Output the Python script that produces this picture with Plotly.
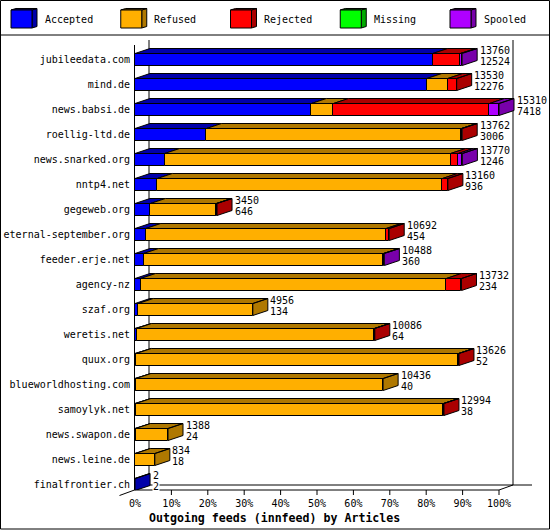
import plotly.graph_objects as go

# article counts per peer
peers = ['jubileedata.com', 'mind.de', 'news.babsi.de', 'roellig-ltd.de', 'news.snarked.org',
         'nntp4.net', 'gegeweb.org', 'eternal-september.org', 'feeder.erje.net', 'agency-nz',
         'szaf.org', 'weretis.net', 'quux.org', 'blueworldhosting.com', 'samoylyk.net',
         'news.swapon.de', 'news.leine.de', 'finalfrontier.ch']
totals = [13760, 13530, 15310, 13762, 13770, 13160, 3450, 10692, 10488, 13732,
          4956, 10086, 13626, 10436, 12994, 1388, 834, 2]
accepted = [12524, 12276, 7418, 3006, 1246, 936, 646, 454, 360, 234, 134, 64, 52, 40, 38, 24, 18, 2]
refused = [0, 880, 930, 10726, 12030, 11994, 2774, 10108, 10088, 12858, 4822, 10002, 13554, 10396, 12936, 1364, 816, 0]
rejected = [1160, 374, 6560, 30, 320, 230, 30, 130, 0, 640, 0, 20, 20, 0, 20, 0, 0, 0]
missing = [0] * 18
spooled = [76, 0, 402, 0, 174, 0, 0, 0, 40, 0, 0, 0, 0, 0, 0, 0, 0, 0]

series_names = ['Accepted', 'Refused', 'Rejected', 'Missing', 'Spooled']
series_values = [accepted, refused, rejected, missing, spooled]
face_colors = ['#0000ff', '#ffaf00', '#ff0000', '#00ff00', '#af00ff']
dark_colors = ['#0000aa', '#af7800', '#aa0000', '#00aa00', '#7800aa']
pct_ticks = [0, 10, 20, 30, 40, 50, 60, 70, 80, 90, 100]

W, H = 550, 530
L, R, T, B = 135, 531, 35, 490   # plot box in pixels
PX_PER_PCT = 3.64
PX_PER_ROW = 25
DX = 15 / PX_PER_PCT   # 3d depth in axis units
DY = 5 / PX_PER_ROW
HALF = 0.24
FONT = 'DejaVu Sans Mono'

scale = 100 / max(totals)


def px(x):
    return (x - L) / (R - L)


def py(y):
    return (B - y) / (B - T)


def line(x0, y0, x1, y1, width=1):
    return dict(type='line', xref='paper', yref='paper', layer='below',
                x0=px(x0), y0=py(y0), x1=px(x1), y1=py(y1),
                line=dict(color='black', width=width))


fig = go.Figure()

# front faces
for name, values, color in zip(series_names, series_values, face_colors):
    rows = [i for i, v in enumerate(values) if v > 0]
    if not rows:
        continue
    fig.add_trace(go.Bar(
        y=rows,
        x=[values[i] * scale for i in rows],
        base=[sum(s[i] for s in series_values[:series_values.index(values)]) * scale for i in rows],
        orientation='h',
        width=HALF * 2,
        name=name,
        marker=dict(color=color, line=dict(color='black', width=1)),
        showlegend=False,
    ))

# top and side faces, one trace per colour
for k, (values, dark) in enumerate(zip(series_values, dark_colors)):
    xs, ys = [], []
    for i, v in enumerate(values):
        if v <= 0:
            continue
        x0 = sum(s[i] for s in series_values[:k]) * scale
        x1 = x0 + v * scale
        xs += [x0, x0 + DX, x1 + DX, x1, x0, None]
        ys += [i - HALF, i - HALF - DY, i - HALF - DY, i - HALF, i - HALF, None]
        # the side belongs to the last segment of the stack
        if not any(s[i] > 0 for s in series_values[k + 1:]):
            xs += [x1, x1 + DX, x1 + DX, x1, x1, None]
            ys += [i - HALF, i - HALF - DY, i + HALF - DY, i + HALF, i - HALF, None]
    if xs:
        fig.add_trace(go.Scatter(x=xs, y=ys, mode='lines', fill='toself', fillcolor=dark,
                                 line=dict(color='black', width=1), hoverinfo='skip',
                                 showlegend=False))

# chart frame
shapes = [
    dict(type='rect', xref='paper', yref='paper', layer='below',
         x0=px(0.5), y0=py(0.5), x1=px(549.5), y1=py(529),
         line=dict(color='black', width=1), fillcolor='white'),
    line(0, 35, 550, 35),
    line(134.5, 45, 134.5, 490),
    line(149, 40, 149, 485),
    line(513, 40, 513, 485),
    line(134.5, 490, 499, 490),
    line(149, 485, 532, 485),
    line(119.5, 495.5, 134.5, 490),
    line(134.5, 490, 149, 485),
    line(499, 490, 513, 485),
]
for t in pct_ticks[1:]:
    shapes.append(dict(type='line', xref='x', yref='paper', layer='below',
                       x0=t, x1=t, y0=py(490), y1=py(495),
                       line=dict(color='black', width=1)))

# legend boxes
annotations = []
for n, name in enumerate(series_names):
    x = 11 + n * 109.75
    shapes.append(dict(type='path', xref='paper', yref='paper', layer='above',
                       path='M%f,%f L%f,%f L%f,%f L%f,%f Z' % (
                           px(x + 21), py(10), px(x + 26), py(8.5), px(x + 26), py(26.5), px(x + 21), py(28)),
                       fillcolor=dark_colors[n], line=dict(color='black', width=1)))
    shapes.append(dict(type='path', xref='paper', yref='paper', layer='above',
                       path='M%f,%f L%f,%f L%f,%f L%f,%f Z' % (
                           px(x), py(10), px(x + 5), py(8.5), px(x + 26), py(8.5), px(x + 21), py(10)),
                       fillcolor=dark_colors[n], line=dict(color='black', width=1)))
    shapes.append(dict(type='rect', xref='paper', yref='paper', layer='above',
                       x0=px(x), y0=py(10), x1=px(x + 21), y1=py(28),
                       fillcolor=face_colors[n], line=dict(color='black', width=1)))
    annotations.append(dict(xref='paper', yref='paper', x=px(x + 31.5), y=py(20),
                            xanchor='left', yanchor='middle', showarrow=False, text=name,
                            font=dict(family=FONT, size=10, color='black')))

# total and accepted labels at the end of each bar
for i in range(len(peers)):
    for text, shift in ((totals[i], 9.5), (accepted[i], -1.5)):
        annotations.append(dict(x=totals[i] * scale, y=i, xref='x', yref='y',
                                xanchor='left', yanchor='middle', xshift=16.5, yshift=shift,
                                showarrow=False, text=str(text), bgcolor='white', borderpad=0,
                                font=dict(family=FONT, size=10, color='black')))

annotations.append(dict(xref='paper', yref='paper', x=px(274), y=py(517.5),
                        xanchor='center', yanchor='middle', showarrow=False,
                        text='<b>Outgoing feeds (innfeed) by Articles</b>',
                        font=dict(family=FONT, size=11.6, color='black')))

fig.update_layout(
    width=W, height=H,
    margin=dict(l=L, r=W - R, t=T, b=H - B, pad=0, autoexpand=False),
    barmode='overlay',
    bargap=0,
    showlegend=False,
    paper_bgcolor='white',
    plot_bgcolor='rgba(0,0,0,0)',
    shapes=shapes,
    annotations=annotations,
    font=dict(family=FONT, size=10, color='black'),
    xaxis=dict(range=[0, (R - L) / PX_PER_PCT], tickvals=pct_ticks, automargin=False,
               ticktext=['%d%%' % t for t in pct_ticks],
               ticks='outside', ticklen=4, tickcolor='rgba(0,0,0,0)',
               showgrid=False, zeroline=False, showline=False,
               tickfont=dict(family=FONT, size=10, color='black')),
    yaxis=dict(range=[17 + 5.5 / PX_PER_ROW, 17 + 5.5 / PX_PER_ROW - (B - T) / PX_PER_ROW],
               tickvals=list(range(len(peers))), ticktext=peers, automargin=False,
               ticks='outside', ticklen=2, tickcolor='rgba(0,0,0,0)',
               showgrid=False, zeroline=False, showline=False,
               tickfont=dict(family=FONT, size=10, color='black')),
)

# the page's default body margin would push the figure out of the window
fig.write_html("out.html", config={'displayModeBar': False},
               post_script="document.body.style.margin='0';")
